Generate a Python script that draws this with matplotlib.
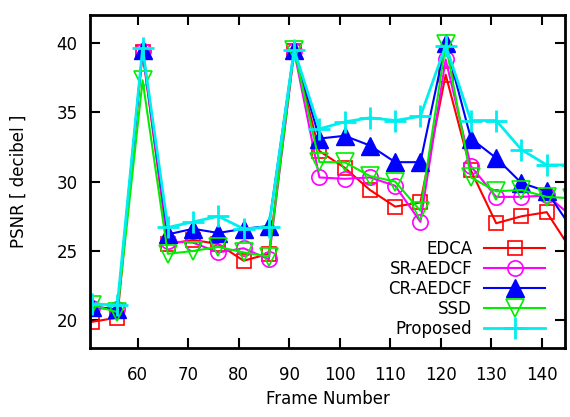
import matplotlib
matplotlib.use("Agg")
import matplotlib.pyplot as plt

plt.rcParams['font.family'] = ['DejaVu Sans']

# frame numbers (last point lies past the right edge of the axes)
frames = [51, 56, 61, 66, 71, 76, 81, 86, 91, 96, 101, 106, 111, 116, 121, 126, 131, 136, 141, 146]

edca = [19.9, 20.2, 39.3, 25.5, 25.8, 25.5, 24.3, 24.8, 39.4, 32.2, 31.0, 29.4, 28.2, 28.5, 37.7, 30.8, 27.0, 27.5, 27.8, 25.0]
sr_aedcf = [20.9, 20.8, 39.4, 25.7, 25.6, 24.9, 25.2, 24.4, 39.4, 30.3, 30.2, 30.3, 29.7, 27.1, 38.8, 31.1, 28.9, 28.9, 29.0, 27.5]
cr_aedcf = [21.0, 20.8, 39.5, 26.2, 26.6, 26.3, 26.6, 26.8, 39.5, 33.1, 33.3, 32.6, 31.4, 31.4, 40.0, 33.1, 31.7, 29.9, 29.3, 26.6]
ssd = [21.1, 20.6, 37.3, 24.8, 25.0, 25.3, 24.9, 24.6, 39.5, 31.4, 31.4, 30.4, 30.0, 27.9, 39.9, 30.3, 29.3, 29.4, 28.9, 28.8]
proposed = [21.2, 21.1, 39.6, 26.7, 27.1, 27.5, 26.6, 26.7, 39.5, 33.8, 34.3, 34.6, 34.4, 34.7, 39.8, 34.4, 34.4, 32.3, 31.2, 31.2]

fig = plt.figure(figsize=(5.7, 4.17), dpi=100)
ax = fig.add_axes([0.158, 0.165, 0.833, 0.799])

ax.plot(frames, edca, color='#ff0000', lw=1.5, marker='s', ms=10, mfc='none', mec='#ff0000', mew=1.2, label='EDCA')
ax.plot(frames, sr_aedcf, color='#ff00ff', lw=1.5, marker='o', ms=11, mfc='none', mec='#ff00ff', mew=1.2, label='SR-AEDCF')
ax.plot(frames, cr_aedcf, color='#0000ff', lw=1.5, marker='^', ms=13, mfc='#0000ff', mec='#0000ff', label='CR-AEDCF')
ax.plot(frames, ssd, color='#00ee00', lw=1.5, marker='v', ms=13, mfc='none', mec='#00ee00', mew=1.2, label='SSD')
ax.plot(frames, proposed, color='#00eeee', lw=2, marker='+', ms=16, mew=2, label='Proposed')

ax.set_xlim(50.6, 144.6)
ax.set_ylim(18, 42)
ax.set_xticks(range(60, 141, 10))
ax.set_yticks(range(20, 41, 5))
ax.tick_params(direction='in', length=7, width=1.5, top=True, right=True, labelsize=12)
ax.tick_params(axis='x', pad=13)
ax.tick_params(axis='y', pad=9)
for s in ax.spines.values():
    s.set_linewidth(2)

ax.set_xlabel('Frame Number', fontsize=12, labelpad=4)
ax.set_ylabel('PSNR [ decibel ]', fontsize=12, labelpad=21)

leg = ax.legend(loc='lower right', bbox_to_anchor=(0.973, 0.012), borderaxespad=0,
                frameon=False, fontsize=12, markerfirst=False,
                handlelength=3.7, labelspacing=0.12, handletextpad=0.7)
for t in leg.get_texts():
    t.set_ha('right')
leg._legend_box.align = 'right'

fig.savefig('out.png', dpi=100)
